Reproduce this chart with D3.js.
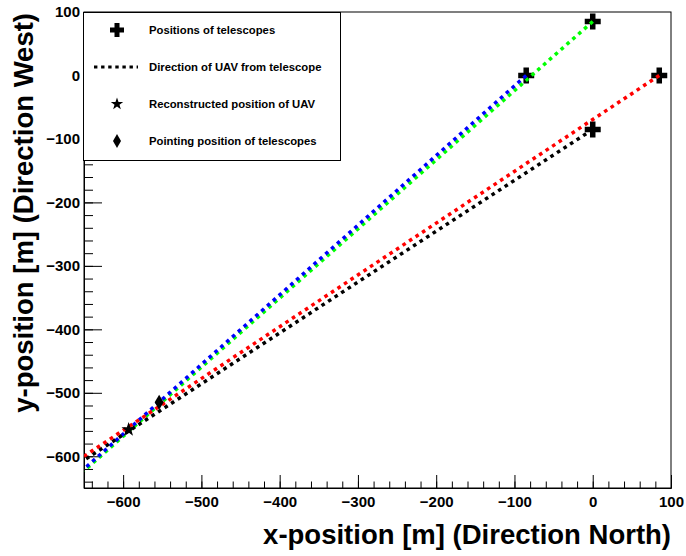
<!DOCTYPE html>
<html>
<head>
<meta charset="utf-8">
<title>UAV reconstruction</title>
<script src="https://d3js.org/d3.v7.min.js"></script>
<style>
  body { margin: 0; background: #fff; }
  svg { display: block; font-family: "Liberation Sans", Arial, Helvetica, sans-serif; font-weight: bold; }
</style>
</head>
<body>
<svg id="chart" width="686" height="556"></svg>
<script>
// telescope positions [m]
const telescopeX = [0, -85, 85, 0];
const telescopeY = [85, 0, 0, -85];
// direction rays: colour and y where each ray leaves the plot at x = -650
const rayColors = ["#00ff00", "#0000ff", "#ff0000", "#000000"];
const rayEndY   = [-623, -620, -600, -606];
const rayOrder  = [0, 1, 3, 2];   // draw order
// reconstructed UAV and pointing position
const uavX = [-593], uavY = [-558];
const pointX = [-554], pointY = [-515];
const xTicks = [-600, -500, -400, -300, -200, -100, 0, 100];
const yTicks = [-600, -500, -400, -300, -200, -100, 0, 100];
const legendLabels = ["Positions of telescopes", "Direction of UAV from telescope",
                      "Reconstructed position of UAV", "Pointing position of telescopes"];

const L = 84, R = 671, T = 12, B = 488;
const x = d3.scaleLinear().domain([-650, 100]).range([L, R]);
const y = d3.scaleLinear().domain([-650, 100]).range([B, T]);

const svg = d3.select("#chart");

// marker shapes
function crossPath(s, w) {
  const a = s / 2, b = w / 2;
  return `M${-b},${-a}H${b}V${-b}H${a}V${b}H${b}V${a}H${-b}V${b}H${-a}V${-b}H${-b}Z`;
}
function starPath(ro, ri) {
  let p = [];
  for (let i = 0; i < 10; i++) {
    const r = i % 2 ? ri : ro, ang = -Math.PI / 2 + i * Math.PI / 5;
    p.push([r * Math.cos(ang), r * Math.sin(ang)]);
  }
  return "M" + p.map(d => d.join(",")).join("L") + "Z";
}
function diamondPath(w, h) {
  return `M0,${-h}L${w},0L0,${h}L${-w},0Z`;
}

// axes: minor ticks first, then majors with labels
const gx = svg.append("g").attr("transform", `translate(0,${B})`);
gx.append("g").call(d3.axisBottom(x).tickValues(d3.range(-640, 101, 20)).tickSize(-6.5).tickFormat(""))
  .call(g => g.select(".domain").remove());
gx.append("g").call(d3.axisBottom(x).tickValues(xTicks).tickSize(-13).tickPadding(8))
  .call(g => g.selectAll("text").attr("font-size", 15).attr("font-family", null).attr("fill", "#000"));

const gy = svg.append("g").attr("transform", `translate(${L},0)`);
gy.append("g").call(d3.axisLeft(y).tickValues(d3.range(-640, 101, 20)).tickSize(-9).tickFormat(""))
  .call(g => g.select(".domain").remove());
gy.append("g").call(d3.axisLeft(y).tickValues(yTicks).tickSize(-18).tickPadding(4))
  .call(g => g.selectAll("text").attr("font-size", 15).attr("font-family", null).attr("fill", "#000"));

svg.selectAll(".tick line").attr("stroke", "#000");
svg.selectAll(".domain").attr("stroke", "#000");

// frame
svg.append("rect").attr("x", L).attr("y", T).attr("width", R - L).attr("height", B - T)
  .attr("fill", "none").attr("stroke", "#000");

svg.append("clipPath").attr("id", "frame").append("rect")
  .attr("x", L).attr("y", T).attr("width", R - L).attr("height", B - T);
const plot = svg.append("g").attr("clip-path", "url(#frame)");

// telescopes
plot.selectAll(".scope").data(telescopeX).join("path")
  .attr("d", crossPath(16, 5.5))
  .attr("transform", (d, i) => `translate(${x(d)},${y(telescopeY[i])})`)
  .attr("fill", "#000");

// rays
plot.selectAll(".ray").data(rayOrder).join("line")
  .attr("x1", i => x(telescopeX[i])).attr("y1", i => y(telescopeY[i]))
  .attr("x2", x(-650)).attr("y2", i => y(rayEndY[i]))
  .attr("stroke", i => rayColors[i]).attr("stroke-width", 3.5)
  .attr("stroke-dasharray", "3.6,4.2");

// pointing position and reconstructed UAV
plot.selectAll(".point").data(pointX).join("path")
  .attr("d", diamondPath(4.5, 7.5))
  .attr("transform", (d, i) => `translate(${x(d)},${y(pointY[i])})`);
plot.selectAll(".uav").data(uavX).join("path")
  .attr("d", starPath(7.5, 3))
  .attr("transform", (d, i) => `translate(${x(d)},${y(uavY[i])})`);

// axis titles
svg.append("text").attr("x", R).attr("y", 544).attr("text-anchor", "end")
  .attr("font-size", 27.5).text("x-position [m] (Direction North)");
svg.append("text").attr("transform", `translate(33,13) rotate(-90)`).attr("text-anchor", "end")
  .attr("font-size", 27.5).text("y-position [m] (Direction West)");

// legend
const lg = svg.append("g");
lg.append("rect").attr("x", 83.5).attr("y", 12.5).attr("width", 257).attr("height", 148)
  .attr("fill", "#fff").attr("stroke", "#000");
const rowY = [30, 67, 104, 141];
lg.append("path").attr("d", crossPath(14, 5)).attr("transform", `translate(117,${rowY[0]})`);
lg.append("line").attr("x1", 94).attr("x2", 138).attr("y1", rowY[1]).attr("y2", rowY[1])
  .attr("stroke", "#000").attr("stroke-width", 3).attr("stroke-dasharray", "3.4,3.7");
lg.append("path").attr("d", starPath(6.5, 2.6)).attr("transform", `translate(117,${rowY[2]})`);
lg.append("path").attr("d", diamondPath(4, 7)).attr("transform", `translate(117,${rowY[3]})`);
lg.selectAll(".lab").data(legendLabels).join("text")
  .attr("x", 149).attr("y", (d, i) => rowY[i]).attr("dy", "0.36em")
  .attr("font-size", 11.3).text(d => d);
</script>
</body>
</html>
